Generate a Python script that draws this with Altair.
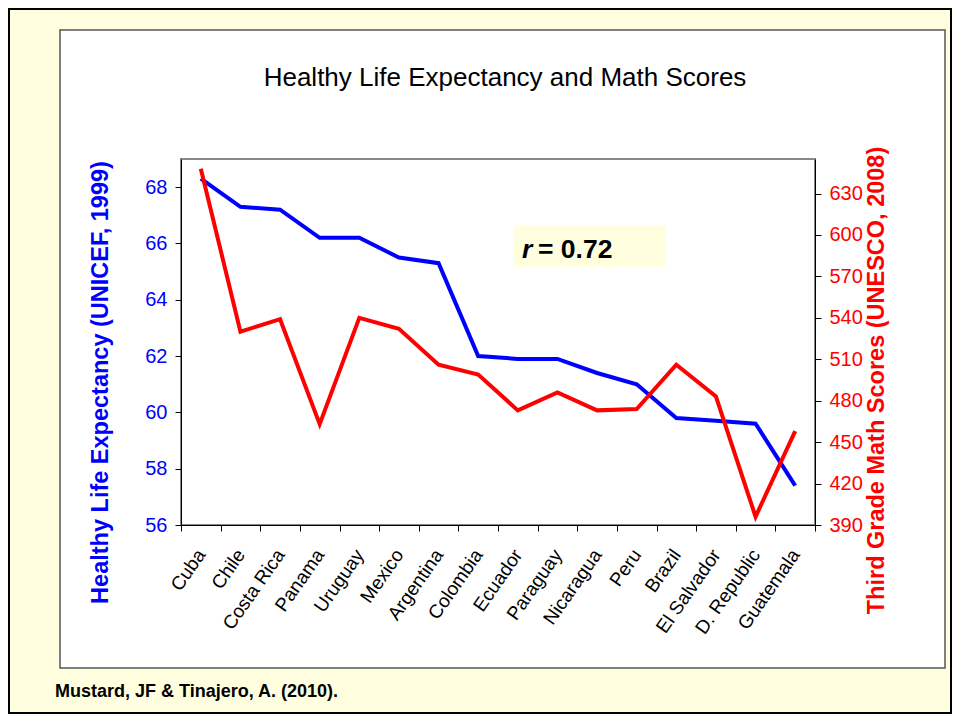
import altair as alt
import pandas as pd

countries = ["Cuba", "Chile", "Costa Rica", "Panama", "Uruguay", "Mexico", "Argentina",
             "Colombia", "Ecuador", "Paraguay", "Nicaragua", "Peru", "Brazil",
             "El Salvador", "D. Republic", "Guatemala"]
life_expectancy = [68.3, 67.3, 67.2, 66.2, 66.2, 65.5, 65.3, 62.0, 61.9, 61.9, 61.4, 61.0,
                   59.8, 59.7, 59.6, 57.4]
math_scores = [648, 530, 539, 463, 540, 532, 506, 499, 473, 486, 473, 474, 506, 483, 396, 458]
left_ticks = [56, 58, 60, 62, 64, 66, 68]
right_ticks = [390, 420, 450, 480, 510, 540, 570, 600, 630]

df = pd.DataFrame({"country": countries, "life": life_expectancy, "math": math_scores})
one = pd.DataFrame({"a": [0]})

W, H = 634, 366
PL, PT = 173, 151
TOTAL_W, TOTAL_H = 944, 706
FONT = "Liberation Sans"

x_enc = alt.X("country:N", sort=countries, bandPosition=0.5,
              scale=alt.Scale(type="band", paddingInner=0, paddingOuter=0),
              axis=alt.Axis(title=None, labelAngle=-55, labelFontSize=19, labelFont=FONT,
                            labelColor="black", tickBand="extent", tickSize=6,
                            tickColor="black", domainColor="black", labelPadding=20,
                            labelLimit=200, zindex=2))

# decorations (pixel offsets relative to the plot area origin)
outer = alt.Chart(one).mark_rect(fill="#FFFFE0", stroke="black", strokeWidth=2).encode(
    x=alt.value(-PL + 1), x2=alt.value(TOTAL_W - PL - 1),
    y=alt.value(-PT + 1), y2=alt.value(TOTAL_H - PT - 1))
inner = alt.Chart(one).mark_rect(fill="white", stroke="#555555", strokeWidth=1.5).encode(
    x=alt.value(60 - 181), x2=alt.value(945 - 181),
    y=alt.value(30 - 159), y2=alt.value(668 - 159))
frame = alt.Chart(one).mark_rect(fill=None, stroke="#888888", strokeWidth=2).encode(
    x=alt.value(0), x2=alt.value(W), y=alt.value(0), y2=alt.value(H))
rbox = alt.Chart(one).mark_rect(fill="#FFFFE0").encode(
    x=alt.value(513 - 181), x2=alt.value(665 - 181),
    y=alt.value(225 - 159), y2=alt.value(267 - 159))
r_italic = alt.Chart(one).mark_text(text="r", font=FONT, fontSize=26.5, fontWeight="bold",
                                    fontStyle="italic", align="left", baseline="alphabetic").encode(
    x=alt.value(522 - 181), y=alt.value(258 - 159))
r_value = alt.Chart(one).mark_text(text="= 0.72", font=FONT, fontSize=26.5, fontWeight="bold",
                                   align="left", baseline="alphabetic").encode(
    x=alt.value(538 - 181), y=alt.value(258 - 159))
title = alt.Chart(one).mark_text(text="Healthy Life Expectancy and Math Scores", font=FONT,
                                 fontSize=26, align="center", baseline="alphabetic").encode(
    x=alt.value(505 - 181), y=alt.value(86 - 159))
cite = alt.Chart(one).mark_text(text="Mustard, JF & Tinajero, A. (2010).", font=FONT,
                                fontSize=18, fontWeight="bold", align="left",
                                baseline="alphabetic").encode(
    x=alt.value(55 - 181), y=alt.value(697 - 159))

base = alt.Chart(df)
blue = base.mark_line(color="#0000FF", strokeWidth=4).encode(
    x=x_enc,
    y=alt.Y("life:Q", scale=alt.Scale(domain=[56, 69], nice=False, zero=False),
            axis=alt.Axis(orient="left", values=left_ticks, title="Healthy Life Expectancy (UNICEF, 1999)",
                          labelColor="#0000FF", labelFontSize=20, labelFont=FONT,
                          titleColor="#0000FF", titleFontSize=23.5, titleFont=FONT,
                          titleFontWeight="bold", titleAngle=270, titleX=-81, titleY=223,
                          titleAlign="center", titleBaseline="middle",
                          tickColor="black", domainColor="black", tickSize=6, grid=False,
                          labelPadding=8, zindex=2)))
red = base.mark_line(color="#FF0000", strokeWidth=4).encode(
    x=x_enc,
    y=alt.Y("math:Q", scale=alt.Scale(domain=[390, 655], nice=False, zero=False),
            axis=alt.Axis(orient="right", values=right_ticks, title="Third Grade Math Scores (UNESCO, 2008)",
                          labelColor="#FF0000", labelFontSize=20, labelFont=FONT,
                          titleColor="#FF0000", titleFontSize=23.5, titleFont=FONT,
                          titleFontWeight="bold", titleAngle=270, titleX=61, titleY=221,
                          titleAlign="center", titleBaseline="middle",
                          tickColor="black", domainColor="black", tickSize=6, grid=False,
                          labelPadding=8, zindex=2)))

chart = alt.layer(outer, inner, frame, rbox, blue, red, r_italic, r_value, title, cite).resolve_scale(
    y="independent"
).properties(
    width=W, height=H,
    autosize=alt.AutoSizeParams(type="none"),
    padding={"left": PL, "top": PT, "right": TOTAL_W - PL - W, "bottom": TOTAL_H - PT - H},
    background="#FFFFE0",
).configure_view(strokeWidth=0)

chart.save("out.html", embed_options={"renderer": "svg", "actions": False})
